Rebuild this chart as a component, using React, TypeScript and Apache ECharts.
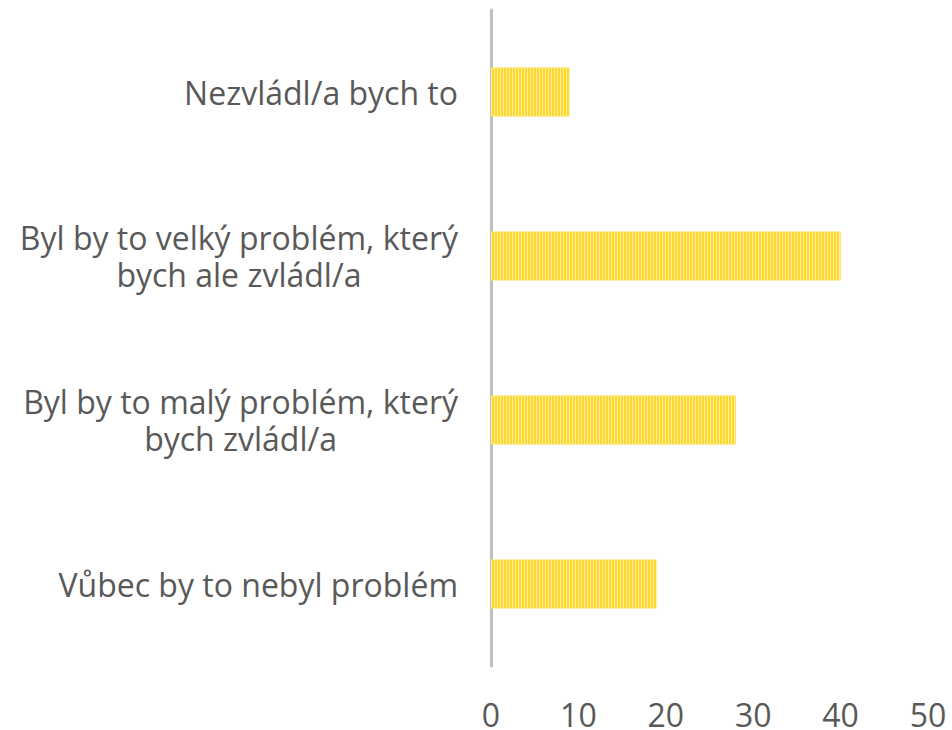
import React, { useEffect, useRef } from "react";
import * as echarts from "echarts";

const categories = [
  "Vůbec by to nebyl problém",
  "Byl by to malý problém, který\nbych zvládl/a",
  "Byl by to velký problém, který\nbych ale zvládl/a",
  "Nezvládl/a bych to",
];
const values = [19, 28, 40, 9];
const xTicks = [0, 10, 20, 30, 40, 50];

function makePattern(): string {
  const c = document.createElement("canvas");
  c.width = 3;
  c.height = 4;
  const ctx = c.getContext("2d")!;
  ctx.fillStyle = "#FFEE9E";
  ctx.fillRect(0, 0, 3, 4);
  ctx.fillStyle = "#FFD82C";
  ctx.fillRect(0, 0, 2, 4);
  return c.toDataURL();
}

export default function App() {
  const ref = useRef<HTMLDivElement>(null);
  useEffect(() => {
    if (!ref.current) return;
    const chart = echarts.init(ref.current, undefined, { renderer: "svg" });
    const pattern = makePattern();
    chart.setOption({
      animation: false,
      grid: { left: 491, right: 24, top: 10, bottom: 62, containLabel: false },
      xAxis: {
        type: "value",
        min: 0,
        max: 50,
        interval: 10,
        axisLine: { show: false },
        axisTick: { show: false },
        splitLine: { show: false },
        axisLabel: {
          color: "#595959",
          fontFamily: "Open Sans",
          fontSize: 32,
          margin: 32,
          formatter: (v: number) => (xTicks.includes(v) ? String(v) : ""),
        },
      },
      yAxis: {
        type: "category",
        data: categories,
        axisLine: { show: true, lineStyle: { color: "#BFBFBF", width: 3 } },
        axisTick: { show: false },
        axisLabel: {
          color: "#595959",
          fontFamily: "Open Sans",
          fontSize: 32,
          margin: 33,
          align: "right",
          lineHeight: 37,
          formatter: (v: string) =>
            v.indexOf("\n") >= 0
              ? v
                  .split("\n")
                  .map((l) => `{c|${l}}`)
                  .join("\n")
              : v,
          rich: {
            c: {
              align: "center",
              color: "#595959",
              fontFamily: "Open Sans",
              fontSize: 32,
              lineHeight: 37,
            },
          },
        },
      },
      series: [
        {
          type: "bar",
          data: values,
          barWidth: "30%",
          itemStyle: {
            color: { image: pattern, repeat: "repeat" } as any,
          },
        },
      ],
    });
    return () => chart.dispose();
  }, []);
  return (
    <div
      ref={ref}
      style={{ position: "absolute", left: 0, top: 0, width: 952, height: 730 }}
    />
  );
}
